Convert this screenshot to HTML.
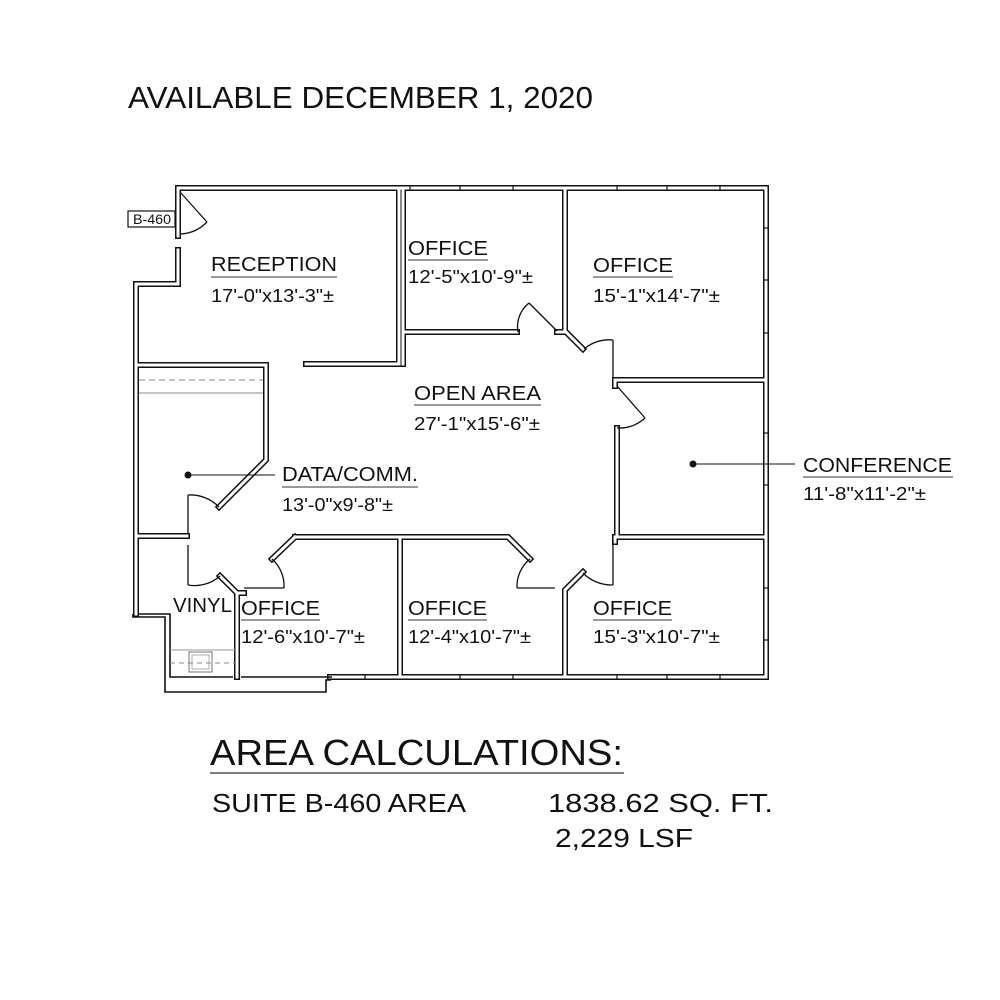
<!DOCTYPE html>
<html><head><meta charset="utf-8"><style>
html,body{margin:0;padding:0;background:#fff}
svg{display:block}
text{font-family:"Liberation Sans",sans-serif;fill:#111}
</style></head><body>
<svg width="1000" height="1000" viewBox="0 0 1000 1000" xmlns="http://www.w3.org/2000/svg">
<rect width="1000" height="1000" fill="#fff"/>
<defs>
<g id="walls" fill="none" stroke-linejoin="miter" stroke-linecap="square">
  <path d="M178,236 V188 H766 V677 H330"/>
  <path d="M178,250 V284 H136 V614"/>
  <path d="M136,365 H266 V460 L219,507"/>
  <path d="M306,364 H399 V191"/>
  <path d="M403,191 V364"/>
  <path d="M403,332 H517"/>
  <path d="M565,191 V331 L583,349"/>
  <path d="M557,332 H565"/>
  <path d="M617,380 H766"/>
  <path d="M615,380 V386"/>
  <path d="M617,428 V537 H766"/>
  <path d="M615,537 V542"/>
  <path d="M583,572 L565,590 V677"/>
  <path d="M400,537 H508 L530,559"/>
  <path d="M400,537 V677"/>
  <path d="M295,537 H400"/>
  <path d="M295,537 L272,559"/>
  <path d="M220,576 L237,593 V677"/>
  <path d="M237,593 H244"/>
  <path d="M136,536 H187"/>
  <path d="M136,536 V614"/>
</g>
</defs>
<use href="#walls" stroke="#111" stroke-width="6"/>
<use href="#walls" stroke="#fff" stroke-width="3"/>

<g fill="none" stroke="#111" stroke-width="1.6">
  <path d="M133,614 V617 H165 V692 H326 V680 H331"/>
  <path d="M139,614 H170 V677 H233"/>
  <path d="M241,677 H332"/>
</g>
<g stroke="#111" stroke-width="1.2">
  <line x1="410" y1="185" x2="410" y2="191"/><line x1="460" y1="185" x2="460" y2="191"/><line x1="513" y1="185" x2="513" y2="191"/>
  <line x1="617" y1="185" x2="617" y2="191"/><line x1="667" y1="185" x2="667" y2="191"/><line x1="720" y1="185" x2="720" y2="191"/>
  <line x1="763" y1="228" x2="769" y2="228"/><line x1="763" y1="280" x2="769" y2="280"/><line x1="763" y1="333" x2="769" y2="333"/>
  <line x1="763" y1="433" x2="769" y2="433"/><line x1="763" y1="485" x2="769" y2="485"/><line x1="763" y1="588" x2="769" y2="588"/><line x1="763" y1="640" x2="769" y2="640"/>
  <line x1="460" y1="674" x2="460" y2="680"/><line x1="513" y1="674" x2="513" y2="680"/><line x1="617" y1="674" x2="617" y2="680"/><line x1="667" y1="674" x2="667" y2="680"/><line x1="720" y1="674" x2="720" y2="680"/>
  <line x1="365" y1="674" x2="365" y2="680"/>
</g>
<g fill="none" stroke="#111" stroke-width="1.3">
  <path d="M180,192 L207,222"/><path d="M207,222 A40,40 0 0 1 180,234"/>
  <path d="M529,303 L557,331"/><path d="M518,332 A30,30 0 0 1 529,303"/>
  <path d="M613,340 V377"/><path d="M584,349 A40,40 0 0 1 613,340"/>
  <path d="M617,386 L645,418"/><path d="M645,418 A38,38 0 0 1 617,428"/>
  <path d="M613,540 V585"/><path d="M613,585 A40,40 0 0 1 583,573"/>
  <path d="M517,588 H555"/><path d="M530,559 A35,35 0 0 0 517,588"/>
  <path d="M244,588 H284"/><path d="M272,559 A36,36 0 0 1 284,588"/>
  <path d="M188,495 V533"/><path d="M188,495 A40,40 0 0 1 219,507"/>
  <path d="M188,545 V585"/><path d="M188,585 A38,38 0 0 0 220,576"/>
</g>
<line x1="139" y1="380" x2="263" y2="380" stroke="#888" stroke-width="1" stroke-dasharray="6,4"/>
<line x1="139" y1="393" x2="263" y2="393" stroke="#888" stroke-width="1"/>
<line x1="170" y1="650" x2="235" y2="650" stroke="#999" stroke-width="1"/>
<line x1="170" y1="663" x2="235" y2="663" stroke="#888" stroke-width="1" stroke-dasharray="5,4"/>
<rect x="189" y="652" width="23" height="20" fill="none" stroke="#777" stroke-width="1"/>
<rect x="192" y="655" width="17" height="14" fill="none" stroke="#999" stroke-width="0.8"/>
<rect x="128" y="211" width="47" height="16" fill="#fff" stroke="#111" stroke-width="1.2"/>
<text x="133" y="224" font-size="14" textLength="38" lengthAdjust="spacingAndGlyphs">B-460</text>
<circle cx="188" cy="475" r="3.5" fill="#111"/>
<line x1="188" y1="475" x2="275" y2="475" stroke="#111" stroke-width="1"/>
<circle cx="693" cy="464" r="3.5" fill="#111"/>
<line x1="693" y1="464" x2="795" y2="464" stroke="#111" stroke-width="1"/>

<g font-size="20">
  <text x="211" y="271" textLength="126" lengthAdjust="spacingAndGlyphs">RECEPTION</text><line x1="211" y1="277" x2="337" y2="277" stroke="#333" stroke-width="1"/>
  <text x="211" y="302" font-size="18" textLength="123" lengthAdjust="spacingAndGlyphs">17'-0"x13'-3"±</text>
  <text x="408" y="255" textLength="80" lengthAdjust="spacingAndGlyphs">OFFICE</text><line x1="408" y1="260" x2="488" y2="260" stroke="#333" stroke-width="1"/>
  <text x="408" y="283" font-size="18" textLength="125" lengthAdjust="spacingAndGlyphs">12'-5"x10'-9"±</text>
  <text x="593" y="272" textLength="80" lengthAdjust="spacingAndGlyphs">OFFICE</text><line x1="593" y1="277" x2="673" y2="277" stroke="#333" stroke-width="1"/>
  <text x="593" y="302" font-size="18" textLength="127" lengthAdjust="spacingAndGlyphs">15'-1"x14'-7"±</text>
  <text x="414" y="400" textLength="127" lengthAdjust="spacingAndGlyphs">OPEN AREA</text><line x1="414" y1="405" x2="541" y2="405" stroke="#333" stroke-width="1"/>
  <text x="414" y="430" font-size="18" textLength="126" lengthAdjust="spacingAndGlyphs">27'-1"x15'-6"±</text>
  <text x="282" y="481" textLength="136" lengthAdjust="spacingAndGlyphs">DATA/COMM.</text><line x1="282" y1="487" x2="418" y2="487" stroke="#333" stroke-width="1"/>
  <text x="282" y="511" font-size="18" textLength="111" lengthAdjust="spacingAndGlyphs">13'-0"x9'-8"±</text>
  <text x="803" y="472" textLength="149" lengthAdjust="spacingAndGlyphs">CONFERENCE</text><line x1="803" y1="477" x2="953" y2="477" stroke="#333" stroke-width="1"/>
  <text x="803" y="500" font-size="18" textLength="123" lengthAdjust="spacingAndGlyphs">11'-8"x11'-2"±</text>
  <text x="173" y="612" textLength="59" lengthAdjust="spacingAndGlyphs">VINYL</text>
  <text x="241" y="615" textLength="79" lengthAdjust="spacingAndGlyphs">OFFICE</text><line x1="241" y1="620" x2="320" y2="620" stroke="#333" stroke-width="1"/>
  <text x="241" y="643" font-size="18" textLength="124" lengthAdjust="spacingAndGlyphs">12'-6"x10'-7"±</text>
  <text x="408" y="615" textLength="79" lengthAdjust="spacingAndGlyphs">OFFICE</text><line x1="408" y1="620" x2="487" y2="620" stroke="#333" stroke-width="1"/>
  <text x="408" y="643" font-size="18" textLength="123" lengthAdjust="spacingAndGlyphs">12'-4"x10'-7"±</text>
  <text x="593" y="615" textLength="79" lengthAdjust="spacingAndGlyphs">OFFICE</text><line x1="593" y1="620" x2="672" y2="620" stroke="#333" stroke-width="1"/>
  <text x="593" y="643" font-size="18" textLength="127" lengthAdjust="spacingAndGlyphs">15'-3"x10'-7"±</text>
</g>

<text x="128" y="108" font-size="31" textLength="465" lengthAdjust="spacingAndGlyphs">AVAILABLE DECEMBER 1, 2020</text>
<text x="210" y="765" font-size="36" textLength="413" lengthAdjust="spacingAndGlyphs">AREA CALCULATIONS:</text>
<line x1="210" y1="773" x2="624" y2="773" stroke="#333" stroke-width="1.2"/>
<text x="212" y="812" font-size="26" textLength="254" lengthAdjust="spacingAndGlyphs">SUITE B-460 AREA</text>
<text x="548" y="812" font-size="26" textLength="225" lengthAdjust="spacingAndGlyphs">1838.62 SQ. FT.</text>
<text x="555" y="847" font-size="26" textLength="138" lengthAdjust="spacingAndGlyphs">2,229 LSF</text>
</svg>
</body></html>
